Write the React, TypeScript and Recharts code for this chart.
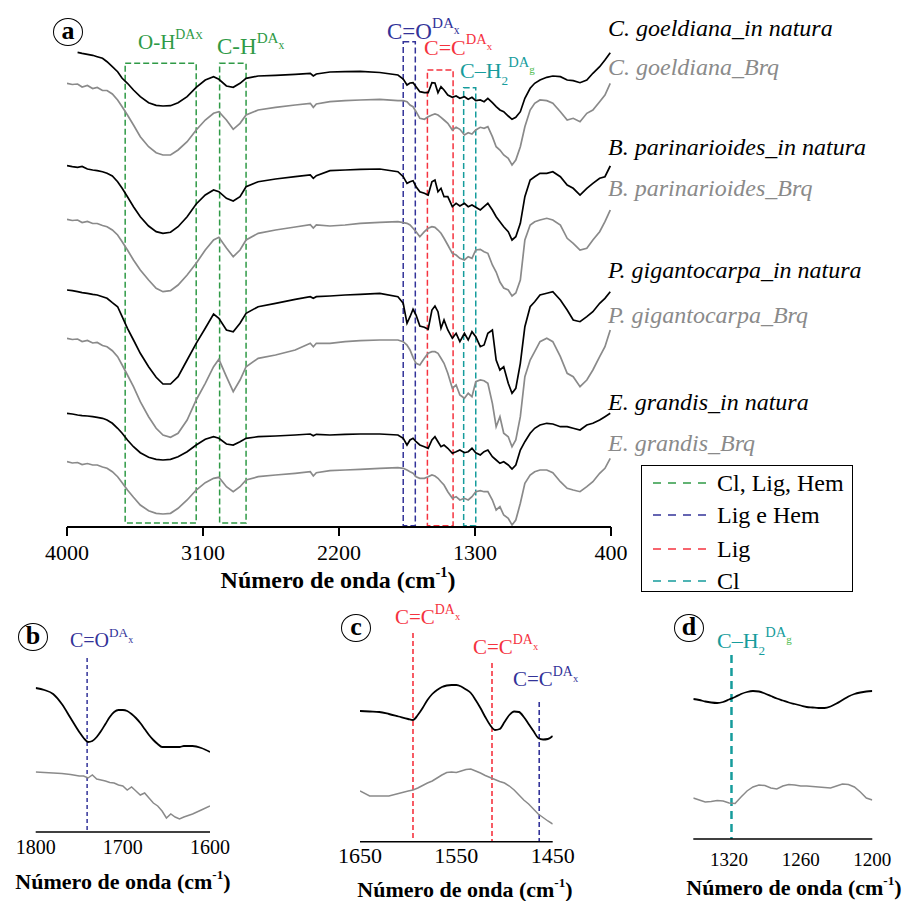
import React from 'react';
import { LineChart, Line, XAxis, YAxis, ReferenceArea, ReferenceLine } from 'recharts';

const SERIF = "'Liberation Serif', Tinos, 'Times New Roman', serif";
const BLACK = '#000000';
const GREY = '#8a8a8a';
const GREEN = '#2f9a46';
const NAVY = '#333399';
const RED = '#f5333f';
const TEAL = '#169c9c';
const LIGHT_GREEN = '#4cbb4c';

// ---- panel (a): full spectra, offset a.u. (axis drawn reversed) ----
const wavenumbers = [
  4000, 3965, 3930, 3900, 3865, 3830, 3800, 3765, 3735, 3700,
  3665, 3635, 3600, 3560, 3515, 3460, 3410, 3365, 3315, 3265,
  3205, 3145, 3085, 3030, 2995, 2945, 2900, 2855, 2815, 2735,
  2620, 2490, 2390, 2370, 2350, 2260, 2160, 2060, 1930, 1810,
  1775, 1750, 1730, 1710, 1690, 1665, 1635, 1610, 1585, 1565,
  1545, 1525, 1505, 1480, 1450, 1425, 1400, 1370, 1345, 1320,
  1295, 1265, 1240, 1215, 1185, 1160, 1135, 1110, 1080, 1055,
  1030, 1000, 970, 935, 905, 870, 825, 785, 735, 690,
  650, 605, 560, 520, 475, 440, 405,
];

const goeldianaNat = [
  null, null, 5.23, 5.33, 5.43, 5.53, 5.67, 5.83, 6.17, 6.67,
  7.17, 7.83, 8.33, 9.0, 9.67, 10.27, 10.53, 10.6, 10.57, 10.27,
  9.67, 8.73, 8.0, 7.67, 7.93, 8.6, 8.73, 8.33, 7.83, 7.6,
  7.53, 7.43, 7.33, 7.6, 7.4, 7.2, 7.17, 7.13, 7.25, 7.5,
  7.9, 8.5, 8.3, 8.27, 8.67, 9.17, 9.27, 9.27, 8.27, 8.3,
  9.27, 8.67, 9.0, 9.5, 9.73, 9.6, 9.83, 9.67, 9.93, 9.73,
  10.07, 10.0, 10.17, 9.83, 10.27, 10.67, 11.0, 11.17, 11.6, 11.93,
  11.73, 11.17, 9.83, 8.83, 8.33, 8.0, 7.73, 7.6, 7.67, 8.0,
  8.07, 8.27, 8.0, 7.33, 6.67, 6.0, 5.27,
];
const goeldianaBrq = [
  8.33, 8.45, 8.4, 8.7, 8.55, 8.85, 8.75, 9.05, 9.05, 9.4,
  10.0, 10.67, 11.5, 12.5, 13.67, 14.67, 15.27, 15.5, 15.5, 15.0,
  14.17, 13.0, 12.0, 11.33, 11.17, 12.0, 12.93, 12.33, 11.5, 11.0,
  10.73, 10.5, 10.33, 10.73, 10.4, 10.17, 10.07, 10.0, 9.93, 10.07,
  10.07, 10.17, 10.5, 10.67, 11.17, 11.83, 11.93, 11.67, 11.5, 11.4,
  11.5, 11.73, 12.0, 12.33, 13.0, 12.73, 12.93, 13.5, 13.27, 13.4,
  13.0, 12.73, 12.83, 12.67, 13.67, 14.67, 15.0, 15.5, 15.83, 16.5,
  16.0, 14.67, 12.67, 11.0, 10.33, 10.0, 10.07, 10.33, 11.17, 12.0,
  11.83, 12.17, 11.33, 11.0, 10.17, 9.5, 8.33,
];
const parinarioidesNat = [
  16.57, 16.67, 16.73, 16.65, 16.9, 17.0, 17.07, 17.17, 17.33, 17.6,
  18.17, 18.83, 19.67, 20.67, 21.67, 22.6, 23.17, 23.33, 23.23, 22.67,
  21.67, 20.4, 19.5, 19.0, 19.17, 19.83, 20.1, 19.67, 18.67, 18.17,
  17.9, 17.67, 17.5, 17.83, 17.57, 17.07, 17.0, 16.93, 16.9, 17.17,
  17.67, 18.33, 18.17, 18.07, 18.67, 19.17, 19.33, 19.5, 18.17, 18.0,
  19.17, 18.83, 19.67, 19.67, 20.67, 20.33, 20.6, 20.33, 20.67, 20.5,
  20.73, 21.0, 20.67, 20.33, 21.0, 21.67, 22.17, 22.67, 23.17, 24.0,
  23.67, 22.33, 19.67, 18.0, 17.67, 17.33, 17.33, 17.17, 17.67, 18.5,
  18.83, 19.5, 18.83, 18.33, 17.83, 17.67, 16.6,
];
const parinarioidesBrq = [
  21.93, 22.05, 22.0, 22.25, 22.15, 22.35, 22.35, 22.55, 22.67, 23.0,
  23.5, 24.17, 25.0, 26.0, 27.0, 28.0, 28.83, 29.17, 29.07, 28.5,
  27.5, 26.33, 25.0, 24.0, 23.73, 24.8, 25.67, 25.0, 24.0, 23.33,
  23.0, 22.7, 22.47, 22.8, 22.5, 22.6, 22.5, 22.33, 22.23, 22.17,
  22.27, 22.33, 22.5, 22.83, 23.17, 23.67, 23.17, 22.83, 22.67, 22.73,
  23.0, 23.33, 23.83, 24.5, 25.33, 25.5, 25.83, 26.0, 25.67, 25.83,
  25.0, 24.93, 25.17, 25.33, 26.5, 27.2, 28.2, 28.8, 29.0, 29.6,
  29.3, 28.0, 24.0, 22.5, 22.17, 22.0, 21.83, 22.0, 22.5, 23.83,
  24.33, 25.0, 24.83, 24.0, 23.17, 22.17, 21.0,
];
const gigantocarpaNat = [
  29.0, 29.07, 29.17, 29.27, 29.33, 29.43, 29.5, 29.67, 29.83, 30.27,
  30.67, 31.67, 32.83, 34.0, 35.33, 36.67, 37.73, 38.4, 38.4, 37.67,
  36.0, 34.33, 32.83, 31.4, 31.83, 33.0, 33.17, 32.33, 31.33, 30.67,
  30.33, 29.93, 29.67, 29.83, 29.67, 29.6, 29.5, 29.43, 29.33, 29.67,
  30.33, 32.33, 31.67, 30.93, 31.5, 32.6, 32.73, 32.93, 31.0, 30.6,
  31.17, 32.83, 32.0, 33.0, 33.83, 33.33, 34.17, 33.33, 34.0, 33.17,
  33.67, 34.67, 34.5, 33.33, 33.0, 36.0, 37.0, 36.67, 38.33, 39.33,
  38.83, 36.33, 32.67, 30.67, 30.17, 29.5, 29.33, 29.17, 30.0, 31.0,
  32.0, 32.17, 31.67, 31.17, 30.33, 29.83, 29.17,
];
const gigantocarpaBrq = [
  33.83, 33.95, 33.9, 34.15, 34.05, 34.3, 34.25, 34.55, 34.67, 35.07,
  35.67, 36.5, 37.5, 38.67, 40.17, 41.67, 42.83, 43.5, 43.73, 43.33,
  42.0, 40.0, 38.33, 36.67, 35.93, 37.67, 39.17, 38.0, 36.67, 35.83,
  35.5, 35.0, 34.33, 34.67, 34.33, 34.33, 34.17, 34.07, 34.0, 34.0,
  34.17, 34.5, 35.0, 35.73, 36.33, 36.5, 35.83, 35.33, 35.17, 35.17,
  35.33, 35.83, 36.33, 37.33, 38.83, 38.5, 39.5, 39.83, 39.33, 39.67,
  38.17, 38.0, 38.07, 38.33, 40.33, 42.67, 41.67, 43.33, 43.67, 44.67,
  44.0, 41.67, 37.67, 36.0, 35.17, 34.17, 33.83, 34.17, 35.67, 37.33,
  37.67, 38.67, 38.0, 37.0, 35.67, 34.67, 33.0,
];
const grandisNat = [
  41.33, 41.4, 41.5, 41.57, 41.6, 41.67, 41.73, 41.83, 42.0, 42.33,
  42.83, 43.33, 44.0, 44.67, 45.27, 45.73, 45.93, 46.0, 45.93, 45.67,
  45.17, 44.5, 43.93, 43.67, 43.83, 44.4, 44.5, 44.17, 43.83, 43.67,
  43.6, 43.5, 43.4, 43.57, 43.43, 43.5, 43.43, 43.4, 43.4, 43.5,
  43.83, 44.5, 44.0, 43.83, 44.17, 44.5, 44.67, 44.83, 44.0, 43.67,
  44.17, 44.67, 44.5, 44.83, 45.33, 45.17, 45.0, 45.27, 45.17, 44.83,
  45.27, 45.5, 45.17, 45.0, 45.67, 46.0, 46.33, 46.17, 46.5, 46.9,
  46.5, 45.0, 44.17, 43.33, 42.83, 42.5, 42.33, 42.4, 42.67, 42.67,
  42.83, 43.0, 42.5, 42.33, 42.0, 41.67, 41.33,
];
const grandisBrq = [
  46.17, 46.3, 46.25, 46.45, 46.35, 46.5, 46.5, 46.7, 46.83, 47.17,
  47.67, 48.27, 49.0, 49.73, 50.5, 51.07, 51.33, 51.4, 51.33, 50.83,
  50.0, 49.0, 48.27, 47.83, 47.73, 48.67, 49.17, 48.67, 48.0, 47.67,
  47.5, 47.33, 47.17, 47.6, 47.27, 47.07, 47.0, 46.93, 46.83, 46.77,
  46.83, 47.0, 47.17, 47.33, 47.67, 47.83, 47.83, 47.67, 47.5, 47.6,
  47.83, 48.17, 48.5, 49.17, 49.83, 49.67, 50.0, 49.83, 50.0, 49.67,
  49.17, 49.07, 49.17, 49.17, 50.0, 51.0, 50.67, 51.5, 51.83, 52.5,
  52.0, 50.33, 48.33, 47.5, 47.17, 47.0, 47.0, 47.27, 48.17, 48.83,
  49.0, 49.17, 48.67, 48.17, 47.33, 46.83, 45.83,
];

const speciesNames = [
  'C. goeldiana_in natura', 'C. goeldiana_Brq',
  'B. parinarioides_in natura', 'B. parinarioides_Brq',
  'P. gigantocarpa_in natura', 'P. gigantocarpa_Brq',
  'E. grandis_in natura', 'E. grandis_Brq',
];
const mainSeries = [
  goeldianaNat, goeldianaBrq, parinarioidesNat, parinarioidesBrq,
  gigantocarpaNat, gigantocarpaBrq, grandisNat, grandisBrq,
];
const mainTicks = [4000, 3100, 2200, 1300, 400];

// assignment boxes (cm-1)
const bandFrom = [3615, 2990, 1775, 1615, 1375];
const bandTo = [3145, 2815, 1695, 1445, 1295];
const bandColors = [GREEN, GREEN, NAVY, RED, TEAL];

const legendNames = ['Cl, Lig, Hem', 'Lig e Hem', 'Lig', 'Cl'];
const legendColors = [GREEN, NAVY, RED, TEAL];

// ---- panel (b) ----
const bWavenumbers = [
  1800, 1790, 1780, 1770, 1760, 1750, 1745, 1740, 1735, 1730,
  1725, 1720, 1715, 1710, 1705, 1700, 1695, 1690, 1685, 1680,
  1675, 1670, 1665, 1660, 1655, 1650, 1645, 1640, 1635, 1630,
  1620, 1610, 1600,
];
const bNatura = [
  68.8, 69.0, 69.4, 70.4, 71.8, 73.2, 73.8, 74.2, 74.1, 73.7,
  73.1, 72.4, 71.7, 71.2, 71.0, 71.0, 71.1, 71.4, 71.8, 72.3,
  72.9, 73.5, 74.0, 74.4, 74.7, 74.7, 74.7, 74.7, 74.7, 74.6,
  74.6, 74.8, 75.2,
];
const bBrq = [
  77.2, 77.25, 77.3, 77.35, 77.45, 77.6, 77.6, 77.8, 77.5, 77.9,
  78.0, 78.1, 78.25, 78.3, 78.5, 78.6, 79.0, 78.7, 79.1, 79.5,
  79.3, 79.8, 80.3, 80.6, 81.1, 81.8, 81.4, 81.7, 81.9, 81.7,
  81.4, 81.0, 80.6,
];

// ---- panel (c) ----
const cWavenumbers = [
  1650, 1640, 1630, 1620, 1610, 1600, 1595, 1590, 1585, 1580,
  1575, 1570, 1565, 1560, 1555, 1550, 1545, 1540, 1535, 1530,
  1525, 1520, 1515, 1510, 1505, 1500, 1495, 1490, 1485, 1480,
  1475, 1470, 1465, 1460, 1455, 1450,
];
const cNatura = [
  71.1, 71.15, 71.2, 71.4, 71.65, 71.9, 72.0, 71.5, 70.8, 70.0,
  69.4, 69.0, 68.7, 68.55, 68.5, 68.5, 68.65, 68.95, 69.3, 70.0,
  70.8, 71.7, 72.5, 73.0, 72.9, 72.2, 71.5, 71.15, 71.2, 71.7,
  72.4, 73.1, 73.8, 73.95, 73.9, 73.6,
];
const cBrq = [
  79.1, 79.6, 79.6, 79.6, 79.35, 79.1, 79.0, 78.8, 78.55, 78.3,
  78.1, 77.8, 77.5, 77.25, 77.2, 77.25, 77.1, 76.95, 76.9, 77.1,
  77.3, 77.55, 77.75, 77.95, 78.15, 78.3, 78.6, 79.0, 79.5, 80.0,
  80.4, 80.9, 81.4, 81.75, 82.1, 82.4,
];

// ---- panel (d) ----
const dWavenumbers = [
  1350, 1345, 1340, 1335, 1330, 1325, 1320, 1315, 1310, 1305,
  1300, 1295, 1290, 1285, 1280, 1275, 1270, 1265, 1260, 1255,
  1250, 1245, 1240, 1235, 1230, 1225, 1220, 1215, 1210, 1205, 1200,
];
const dNatura = [
  69.9, 70.0, 70.15, 70.25, 70.3, 70.2, 69.95, 69.7, 69.4, 69.2,
  69.1, 69.15, 69.35, 69.6, 69.85, 70.05, 70.25, 70.4, 70.55, 70.7,
  70.75, 70.8, 70.8, 70.65, 70.35, 70.0, 69.65, 69.4, 69.25, 69.15, 69.1,
];
const dBrq = [
  79.8, 80.0, 80.2, 80.15, 80.05, 80.1, 80.3, 80.35, 79.7, 79.1,
  78.7, 78.5, 78.55, 78.8, 78.9, 78.6, 78.45, 78.5, 78.6, 78.6,
  78.65, 78.7, 78.75, 78.8, 78.6, 78.4, 78.45, 78.7, 79.2, 79.8, 80.0,
];

const mainData = wavenumbers.map((wn, i) => {
  const row: Record<string, number | null> = { wn };
  mainSeries.forEach((s, k) => { row['s' + k] = s[i]; });
  return row;
});
const pairData = (wns: number[], nat: number[], brq: number[]) =>
  wns.map((wn, i) => ({ wn, nat: nat[i], brq: brq[i] }));

const abs = (left: number, top: number): React.CSSProperties => ({ position: 'absolute', left, top });

// formula label like C=O^{DA_x}
const Chem = ({ x, y, size, color, base, sub, sup, supSub, supSubColor, supSubLift }: any) => (
  <div style={{ ...abs(x, y - size * 0.6), fontSize: size, lineHeight: `${size * 1.2}px`, color, fontFamily: SERIF, whiteSpace: 'nowrap' }}>
    {base}
    {sub && <span style={{ fontSize: size * 0.6, position: 'relative', top: size * 0.35 }}>{sub}</span>}
    {sup && <span style={{ fontSize: size * 0.66, position: 'relative', top: -size * 0.5 }}>{sup}</span>}
    {supSub && (
      <span style={{ fontSize: size * 0.5, position: 'relative', top: supSubLift ?? -size * 0.22, color: supSubColor ?? color }}>{supSub}</span>
    )}
  </div>
);

const PanelTag = ({ cx, cy, letter }: { cx: number; cy: number; letter: string }) => (
  <div style={{
    ...abs(cx - 15, cy - 13), width: 28, height: 24, border: '1.5px solid #000', borderRadius: '50%',
    display: 'flex', alignItems: 'center', justifyContent: 'center', fontFamily: SERIF,
    fontWeight: 'bold', fontSize: 26, lineHeight: 1, paddingBottom: 2, boxSizing: 'content-box',
  }}>{letter}</div>
);

const AxisTitle = ({ cx, cy, size }: { cx: number; cy: number; size: number }) => (
  <div style={{ ...abs(cx - 150, cy - size * 0.6), width: 300, textAlign: 'center', fontFamily: SERIF, fontWeight: 'bold', fontSize: size, lineHeight: `${size * 1.2}px`, whiteSpace: 'nowrap' }}>
    Número de onda (cm<span style={{ fontSize: size * 0.6, position: 'relative', top: -size * 0.45 }}>-1</span>)
  </div>
);

const speciesTops = [28, 67, 147, 188, 270, 315, 402, 443];

const Inset = ({ left, top, width, height, margin, data, domain, ticks, yDomain, fontSize, tickMargin, children }: any) => (
  <div style={abs(left, top)}>
    <LineChart width={width} height={height} data={data} margin={margin}>
      <XAxis dataKey="wn" type="number" domain={domain} reversed ticks={ticks} interval={0} height={30}
        tickLine={false} tickMargin={tickMargin} axisLine={{ stroke: '#000', strokeWidth: 1.5 }}
        tick={{ fill: '#000', fontSize, fontFamily: SERIF }} allowDataOverflow />
      <YAxis hide reversed type="number" domain={yDomain} allowDataOverflow />
      {children}
      <Line dataKey="nat" stroke={BLACK} strokeWidth={1.8} dot={false} type="monotone" isAnimationActive={false} />
      <Line dataKey="brq" stroke={GREY} strokeWidth={1.5} dot={false} type="linear" isAnimationActive={false} />
    </LineChart>
  </div>
);

export default function App() {
  return (
    <div style={{ position: 'absolute', left: 0, top: 0, width: 905, height: 901, background: '#fff', fontFamily: SERIF, overflow: 'hidden' }}>
      <div style={abs(0, 0)}>
        <LineChart width={905} height={600} data={mainData} margin={{ top: 20, right: 294, bottom: 33, left: 67 }}>
          <XAxis dataKey="wn" type="number" domain={[400, 4000]} reversed ticks={mainTicks} interval={0} height={40}
            tickSize={9} tickMargin={8} axisLine={{ stroke: '#000', strokeWidth: 2 }} tickLine={{ stroke: '#000', strokeWidth: 2 }}
            tick={{ fill: '#000', fontSize: 22, fontFamily: SERIF }} allowDataOverflow />
          <YAxis hide reversed type="number" domain={[2, 52.7]} allowDataOverflow />
          {bandFrom.map((x1, i) => (
            <ReferenceArea key={'band' + i} x1={x1} x2={bandTo[i]} y1={[6.33, 6.33, 4.17, 7.0, 8.77][i]} y2={i < 2 ? 52.3 : 52.57}
              fill="none" fillOpacity={0} stroke={bandColors[i]} strokeDasharray="6 3" strokeWidth={1.5} ifOverflow="visible" />
          ))}
          {mainSeries.map((_, k) => (
            <Line key={'s' + k} dataKey={'s' + k} stroke={k % 2 === 0 ? BLACK : GREY} strokeWidth={1.7}
              dot={false} type="linear" isAnimationActive={false} />
          ))}
        </LineChart>
      </div>

      <PanelTag cx={68} cy={31} letter="a" />
      <Chem x={138} y={43} size={21} color={GREEN} base="O-H" sup="DA" supSub="X" supSubLift={-10} />
      <Chem x={217} y={47} size={23} color={GREEN} base="C-H" sup="DA" supSub="x" />
      <Chem x={387} y={32} size={23} color={NAVY} base="C=O" sup="DA" supSub="x" />
      <Chem x={424} y={48} size={22} color={RED} base="C=C" sup="DA" supSub="x" />
      <Chem x={460} y={71} size={22} color={TEAL} base="C–H" sub="2" sup="DA" supSub="g" supSubColor={LIGHT_GREEN} />

      {speciesNames.map((name, i) => (
        <div key={name} style={{ ...abs(608, speciesTops[i] - 14), fontFamily: SERIF, fontSize: 24, lineHeight: '28px', fontStyle: 'italic', color: i % 2 === 0 ? BLACK : GREY, whiteSpace: 'nowrap' }}>
          {name}
        </div>
      ))}

      <AxisTitle cx={338} cy={580} size={24} />

      <div style={{ ...abs(641, 465), width: 210, height: 125, border: '1.5px solid #000', background: '#fff' }}>
        {legendNames.map((name, i) => (
          <div key={name} style={{ ...abs(0, [16.7, 49, 83, 115][i] - 14), height: 28, width: 210 }}>
            <svg width={70} height={28} style={abs(0, 0)}>
              <line x1={11} x2={64} y1={14} y2={14} stroke={legendColors[i]} strokeWidth={1.5} strokeDasharray="8 7" />
            </svg>
            <div style={{ ...abs(75, 0), fontFamily: SERIF, fontSize: 24, lineHeight: '28px', whiteSpace: 'nowrap' }}>{name}</div>
          </div>
        ))}
      </div>

      {/* panel b */}
      <Inset left={0} top={600} width={260} height={301} margin={{ top: 50, right: 50, bottom: 39, left: 35.7 }}
        data={pairData(bWavenumbers, bNatura, bBrq)} domain={[1600, 1800]} ticks={[1800, 1700, 1600]}
        yDomain={[65, 83.2]} fontSize={20} tickMargin={2}>
        <ReferenceLine segment={[{ x: 1741, y: 65.8 }, { x: 1741, y: 83.2 }]} stroke={NAVY} strokeDasharray="4 3" strokeWidth={1.5} ifOverflow="visible" />
      </Inset>
      <PanelTag cx={33} cy={636} letter="b" />
      <Chem x={70} y={640} size={20} color={NAVY} base="C=O" sup="DA" supSub="x" />
      <AxisTitle cx={123} cy={882} size={22} />

      {/* panel c */}
      <Inset left={330} top={590} width={280} height={311} margin={{ top: 20, right: 57.3, bottom: 29.3, left: 30 }}
        data={pairData(cWavenumbers, cNatura, cBrq)} domain={[1450, 1650]} ticks={[1650, 1550, 1450]}
        yDomain={[61, 84.17]} fontSize={22} tickMargin={0}>
        <ReferenceLine segment={[{ x: 1595, y: 63.3 }, { x: 1595, y: 84.17 }]} stroke={RED} strokeDasharray="5 3" strokeWidth={1.6} ifOverflow="visible" />
        <ReferenceLine segment={[{ x: 1513, y: 66.3 }, { x: 1513, y: 84.17 }]} stroke={RED} strokeDasharray="5 3" strokeWidth={1.6} ifOverflow="visible" />
        <ReferenceLine segment={[{ x: 1464, y: 70.2 }, { x: 1464, y: 84.17 }]} stroke={NAVY} strokeDasharray="5 3" strokeWidth={1.6} ifOverflow="visible" />
      </Inset>
      <PanelTag cx={356} cy={627} letter="c" />
      <Chem x={395} y={618} size={21} color={RED} base="C=C" sup="DA" supSub="x" />
      <Chem x={473} y={648} size={21} color={RED} base="C=C" sup="DA" supSub="x" />
      <Chem x={513} y={680} size={21} color={NAVY} base="C=C" sup="DA" supSub="x" />
      <AxisTitle cx={465} cy={890} size={22} />

      {/* panel d */}
      <Inset left={640} top={600} width={265} height={301} margin={{ top: 50, right: 32.7, bottom: 32, left: 53.3 }}
        data={pairData(dWavenumbers, dNatura, dBrq)} domain={[1200, 1350]} ticks={[1320, 1260, 1200]}
        yDomain={[65, 83.9]} fontSize={19} tickMargin={8}>
        <ReferenceLine segment={[{ x: 1318, y: 65.5 }, { x: 1318, y: 83.9 }]} stroke={TEAL} strokeDasharray="8 5" strokeWidth={2.5} ifOverflow="visible" />
      </Inset>
      <PanelTag cx={689} cy={627} letter="d" />
      <Chem x={717} y={641} size={22} color={TEAL} base="C–H" sub="2" sup="DA" supSub="g" supSubColor={LIGHT_GREEN} />
      <AxisTitle cx={794} cy={888} size={22} />
    </div>
  );
}
